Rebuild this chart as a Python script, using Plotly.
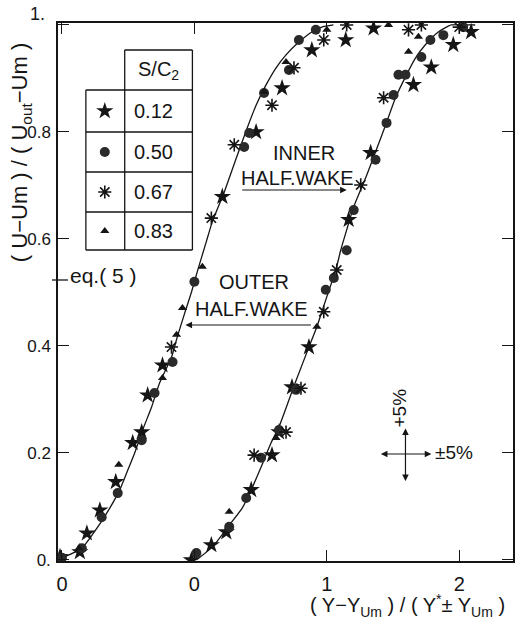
import plotly.graph_objects as go

# ---------------- data ----------------
# eq.(5) curve, outer half-wake (left) and inner half-wake (right)
outer_x = [-1.0, -0.85, -0.729, -0.639, -0.564, -0.511, -0.451, -0.391, -0.323, -0.263,
           -0.173, -0.128, -0.075, -0.023, 0.023, 0.090, 0.135, 0.226, 0.316, 0.398,
           0.466, 0.541, 0.617, 0.692, 0.789, 0.887, 0.962, 1.05]
outer_y = [0.004, 0.022, 0.062, 0.097, 0.131, 0.163, 0.200, 0.243, 0.286, 0.331,
           0.379, 0.418, 0.460, 0.500, 0.540, 0.595, 0.632, 0.688, 0.751, 0.807,
           0.850, 0.888, 0.920, 0.944, 0.968, 0.987, 0.996, 1.0]
inner_x = [0.015, 0.135, 0.263, 0.361, 0.429, 0.511, 0.579, 0.639, 0.714, 0.767,
           0.865, 0.925, 0.977, 1.015, 1.068, 1.105, 1.150, 1.203, 1.293, 1.368,
           1.444, 1.519, 1.594, 1.669, 1.744, 1.842, 1.940, 2.12]
inner_y = [0.0, 0.024, 0.065, 0.097, 0.131, 0.178, 0.219, 0.249, 0.299, 0.335,
           0.398, 0.436, 0.475, 0.503, 0.542, 0.579, 0.617, 0.660, 0.714, 0.763,
           0.813, 0.864, 0.903, 0.938, 0.963, 0.987, 1.0, 1.0]

# S/C2 = 0.12 (stars)
s012_x = [-1.015, -0.865, -0.812, -0.714, -0.594, -0.466, -0.398, -0.353, -0.241, 0.211,
          0.466, 0.662, 0.887, 1.143, 1.353,
          -0.023, 0.128, 0.241, 0.429, 0.586, 0.639, 0.737, 0.865, 1.165, 1.331,
          1.654, 1.789, 1.955, 2.090]
s012_y = [0.006, 0.015, 0.050, 0.093, 0.146, 0.219, 0.239, 0.308, 0.364, 0.679,
          0.800, 0.882, 0.953, 0.972, 0.994,
          0.0, 0.028, 0.052, 0.131, 0.196, 0.239, 0.323, 0.398, 0.636, 0.761,
          0.888, 0.921, 0.963, 0.987]
# S/C2 = 0.50 (filled rosettes)
s050_x = [-1.0, -0.85, -0.70, -0.579, -0.398, -0.301, -0.165, 0.0, 0.376, 0.414,
          0.526, 0.714, 0.789, 0.917,
          0.015, 0.263, 0.391, 0.504, 0.639, 0.767, 0.992, 1.053, 1.150, 1.203,
          1.368, 1.451, 1.504, 1.541, 1.594, 1.714, 1.782, 1.880, 2.030]
s050_y = [0.004, 0.022, 0.080, 0.125, 0.224, 0.312, 0.370, 0.520, 0.772, 0.798,
          0.873, 0.916, 0.972, 0.991,
          0.013, 0.062, 0.116, 0.191, 0.243, 0.318, 0.505, 0.527, 0.579, 0.654,
          0.748, 0.817, 0.869, 0.907, 0.907, 0.940, 0.972, 0.981, 0.996]
# S/C2 = 0.67 (asterisks)
s067_x = [-0.173, 0.128, 0.301, 0.586, 0.752, 0.977, 1.150, 1.617, 1.714,
          0.451, 0.692, 0.805, 0.977, 1.075, 1.256, 1.429, 2.0]
s067_y = [0.398, 0.639, 0.776, 0.850, 0.920, 0.972, 1.0, 0.991, 1.0,
          0.196, 0.239, 0.321, 0.464, 0.542, 0.701, 0.864, 0.996]
# S/C2 = 0.83 (triangles)
s083_x = [-0.872, -0.571, -0.241, -0.135, -0.090, 0.060, 0.526, 0.692, 1.0, 1.466,
          0.263, 0.617, 0.925, 1.617, 1.692]
s083_y = [0.022, 0.178, 0.340, 0.421, 0.471, 0.548, 0.875, 0.931, 0.991, 1.0,
          0.090, 0.228, 0.436, 0.950, 0.978]

legend_labels = ["0.12", "0.50", "0.67", "0.83"]
x_tick_vals = [-1, 0, 1, 2]
x_tick_text = ["0", "0", "1", "2"]
y_tick_vals = [0, 0.2, 0.4, 0.6, 0.8, 1.0]
y_tick_text = ["0.", "0.2", "0.4", "0.6", "0.8", " "]

INK = "#151515"
FONT = "Liberation Sans"

# plot frame in page pixels (left, right, top, bottom)
FL, FR, FT, FB = 58, 515, 23, 561
def px(x):
    return (x - FL) / (FR - FL)
def py(y):
    return (FB - y) / (FB - FT)

sym = {
    "0.12": dict(symbol="star", size=13, color=INK, line=dict(width=0)),
    "0.50": dict(symbol="circle", size=10, color="#2a2a2a", line=dict(width=0)),
    "0.67": dict(symbol="asterisk-open", size=11, color=INK, line=dict(color=INK, width=1.6)),
    "0.83": dict(symbol="triangle-up", size=8, color=INK, line=dict(width=0)),
}

fig = go.Figure()
for cx, cy in [(outer_x, outer_y), (inner_x, inner_y)]:
    fig.add_trace(go.Scatter(x=cx, y=cy, mode="lines", hoverinfo="skip",
                             line=dict(color=INK, width=1.3, shape="spline", smoothing=0.5)))

series = [("0.12", s012_x, s012_y), ("0.50", s050_x, s050_y),
          ("0.67", s067_x, s067_y), ("0.83", s083_x, s083_y)]
for lab, sx, sy in series:
    fig.add_trace(go.Scatter(x=sx, y=sy, mode="markers", marker=sym[lab], name=lab))

# key symbols of the S/C2 table, on an overlay axis in frame pixels
row_y = [111, 152, 192, 231]
for lab, ry in zip(legend_labels, row_y):
    fig.add_trace(go.Scatter(x=[105], y=[ry], mode="markers", marker=sym[lab],
                             xaxis="x2", yaxis="y2", hoverinfo="skip"))

shapes = []
def L(x0, y0, x1, y1, w=1.3):
    shapes.append(dict(type="line", xref="paper", yref="paper",
                       x0=px(x0), y0=py(y0), x1=px(x1), y1=py(y1),
                       line=dict(color=INK, width=w)))
# table
L(125, 50, 193, 50); L(125, 50, 125, 250); L(193, 50, 193, 250)
L(86, 90, 193, 90); L(86, 90, 86, 250); L(86, 250, 193, 250)
for yy in [132, 172, 212]:
    L(86, yy, 193, yy)
# eq.(5) key line
L(52, 280, 68, 280, 1.3)

ann = []
def T(x, y, text, size=20, xanchor="center", angle=0, yanchor="middle"):
    ann.append(dict(xref="paper", yref="paper", x=px(x), y=py(y), text=text, showarrow=False,
                    xanchor=xanchor, yanchor=yanchor, textangle=angle,
                    font=dict(family=FONT, size=size, color=INK)))
T(159, 70, "S/C<sub>2</sub>", 20)
for lab, ry in zip(legend_labels, row_y):
    T(132, ry, lab, 20, "left")
T(68, 275, "eq.( 5 )", 21, "left")
T(37, 14, "1.", 18)
T(255, 282, "OUTER", 20)
T(252, 309, "HALF.WAKE", 20)
T(305, 153, "INNER", 20)
T(299, 178, "HALF.WAKE", 20)
T(435, 452, "±5%", 19, "left")
T(400, 408, "+5%", 19, "center", -90)
T(509, 622, "( Y−Y<sub>Um</sub> ) / ( Y<sup>*</sup>± Y<sub>Um</sub> )", 20, "right", 0, "bottom")
T(21, 153, "( U−Um ) / ( U<sub>out</sub>−Um )", 22, "center", -90)

def A(x0, y0, x1, y1, both=False):
    ann.append(dict(xref="paper", yref="paper", axref="pixel", ayref="pixel",
                    x=px(x1), y=py(y1), ax=x0 - x1, ay=y0 - y1,
                    text="", showarrow=True, arrowhead=2, arrowsize=1.1, arrowwidth=1.2,
                    arrowcolor=INK, arrowside="end+start" if both else "end",
                    startarrowhead=2, startarrowsize=1.1))
A(313, 325, 186, 325)
A(242, 190, 348, 190)
A(381, 454, 433, 454, True)
A(407, 427, 407, 481, True)

fig.update_layout(
    width=516, height=623,
    margin=dict(l=FL, r=516 - FR, t=FT, b=623 - FB),
    paper_bgcolor="white", plot_bgcolor="white",
    showlegend=False,
    font=dict(family=FONT, color=INK),
    xaxis=dict(range=[-1.030, 2.406], tickvals=x_tick_vals, ticktext=x_tick_text,
               ticks="inside", ticklen=11, tickwidth=1.3, tickcolor=INK,
               showline=True, linecolor=INK, linewidth=1.5, mirror="ticks",
               showgrid=False, zeroline=False, tickfont=dict(size=20, family=FONT),
               ticklabelstandoff=4),
    yaxis=dict(range=[-0.0019, 1.0037], tickvals=y_tick_vals, ticktext=y_tick_text,
               ticks="inside", ticklen=11, tickwidth=1.3, tickcolor=INK,
               showline=True, linecolor=INK, linewidth=1.5, mirror="ticks",
               showgrid=False, zeroline=False, tickfont=dict(size=17, family=FONT),
               ticklabelstandoff=2),
    xaxis2=dict(overlaying="x", range=[FL, FR], visible=False),
    yaxis2=dict(overlaying="y", range=[FB, FT], visible=False),
    shapes=shapes, annotations=ann,
)

fig.write_html("out.html")
